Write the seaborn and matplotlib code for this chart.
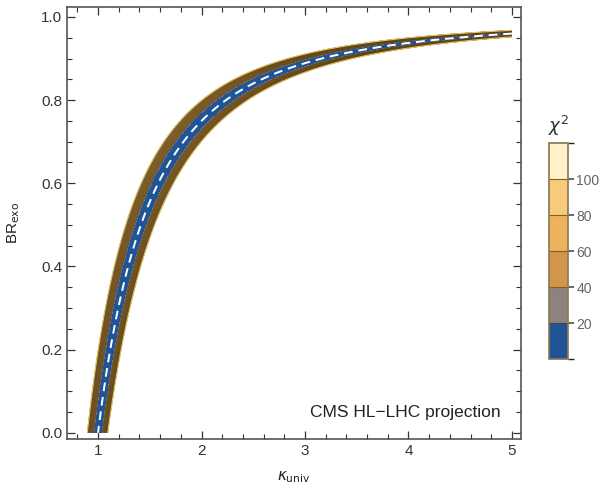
import numpy as np
import matplotlib
matplotlib.use("Agg")
import matplotlib.pyplot as plt
import seaborn as sns
from matplotlib.colors import ListedColormap, BoundaryNorm
from matplotlib.ticker import MultipleLocator

# chi^2 bands shown in the legend bar
chi2_levels = [0, 20, 40, 60, 80, 100, 120]
band_colors = ["#1f5596", "#8e8280", "#d2954b", "#eeb25c", "#f8cb7c", "#fff1c9"]
cbar_ticks = [20, 40, 60, 80, 100]

# fit model: signal strength mu = kappa^2 * (1 - BR_exo), measured 1 +- sigma
mu_measured = 1.0
mu_sigma = 0.018

kappa_range = (0.8, 5.0)
br_range = (0.0, 1.0)
x_ticks = [1, 2, 3, 4, 5]
y_ticks = [0.0, 0.2, 0.4, 0.6, 0.8, 1.0]
label_text = "CMS HL\u2212LHC projection"

sns.set_theme(style="ticks")
plt.rcParams["font.family"] = ["Liberation Sans", "DejaVu Sans"]

kappa = np.linspace(*kappa_range, 1400)
br = np.linspace(*br_range, 1600)
K, B = np.meshgrid(kappa, br)
mu = K ** 2 * (1 - B)
chi2 = ((mu - mu_measured) / mu_sigma) ** 2

fig = plt.figure(figsize=(6.02, 4.88), dpi=100)
ax = fig.add_axes([0.1113, 0.1004, 0.754, 0.8853])
cax = fig.add_axes([0.912, 0.2643, 0.0316, 0.4426])

cmap = ListedColormap(band_colors)
norm = BoundaryNorm(chi2_levels, cmap.N)
cf = ax.contourf(K, B, chi2, levels=chi2_levels, cmap=cmap, norm=norm)
# dense contour lines like the Mathematica rendering
ax.contour(K, B, chi2, levels=np.arange(20, 121, 3), colors="#5e4518",
           linewidths=0.45, alpha=0.55)
ax.contour(K, B, chi2, levels=[120], colors="#e9c468", linewidths=0.8)
# best fit line
ax.contour(K, B, mu, levels=[mu_measured], colors="white",
           linewidths=1.4, linestyles=[(0, (4.5, 3))])

ax.set_xlim(0.70, 5.087)
ax.set_ylim(-0.015, 1.024)
ax.set_xticks(x_ticks)
ax.set_yticks(y_ticks)
ax.set_yticklabels([f"{v:.1f}" for v in y_ticks])
ax.xaxis.set_minor_locator(MultipleLocator(0.2))
ax.yaxis.set_minor_locator(MultipleLocator(0.05))
ax.tick_params(which="both", direction="in", top=True, right=True,
               color="#333333", labelcolor="#333333", labelsize=11)
ax.tick_params(which="major", length=6, width=0.9)
ax.tick_params(which="minor", length=3.5, width=0.8)
for s in ax.spines.values():
    s.set_color("#555555")
    s.set_linewidth(1.2)

ax.set_xlabel(r"$\kappa_{\rm univ}$", fontsize=11, color="#222222", labelpad=8)
ax.set_ylabel(r"BR$_{\rm exo}$", fontsize=11, color="#222222", labelpad=14)
ax.text(0.955, 0.045, label_text, transform=ax.transAxes, ha="right",
        va="bottom", fontsize=12.5, color="#222222")

cb = fig.colorbar(cf, cax=cax, ticks=cbar_ticks)
cb.outline.set_edgecolor("#8a7a55")
cb.ax.tick_params(direction="out", length=4, pad=2, color="#555555",
                  labelcolor="#666666", labelsize=10)
cb.ax.axhline(20, color="#444444", lw=0.8)
for lv in [40, 60, 80, 100]:
    cb.ax.axhline(lv, color="#8a5a20", lw=0.8)
cax.set_title(r"$\chi^2$", fontsize=13, color="#333333", pad=8)

fig.savefig("out.png", dpi=100)
